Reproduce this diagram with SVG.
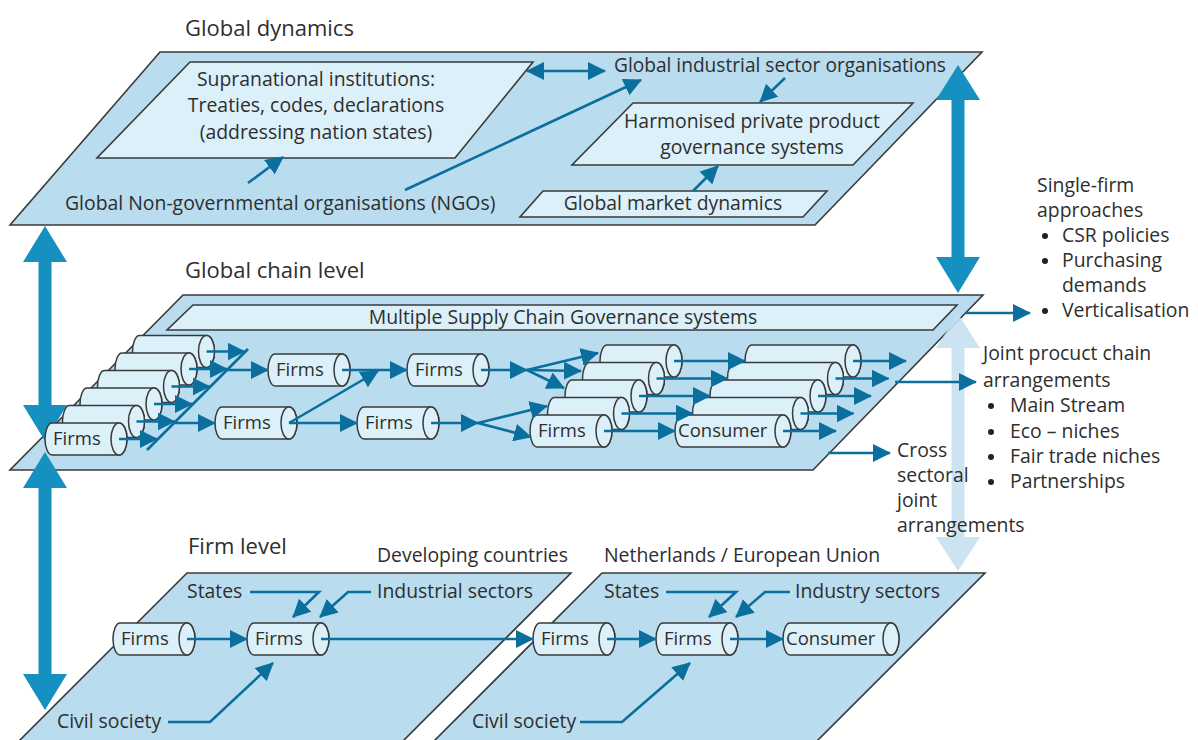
<svg xmlns="http://www.w3.org/2000/svg" xmlns:xlink="http://www.w3.org/1999/xlink" width="1198" height="740" viewBox="0 0 1198 740">
  <defs>
    <style>
      .plane { fill: #b9dcef; stroke: #3a3a3a; stroke-width: 1.6; }
      .box { fill: #dcf0fa; stroke: #3a3a3a; stroke-width: 1.6; }
      .cyl path, .cyl ellipse { fill: #dcf0fa; stroke: #3a3a3a; stroke-width: 1.5; }
      text { font-family: "Open Sans", "Liberation Sans", sans-serif; font-size: 19.4px; fill: #2e2e2e; }
      .title { font-size: 22px; }
      .c { text-anchor: middle; }
      .lbl { font-size: 18.5px; }
      .bullet { fill: #222222; }
      .conn path { fill: none; stroke: #0b6f9e; stroke-width: 2.6; marker-end: url(#ah); }
      .conn path.plain { marker-end: none; }
      .thick { fill: #1690c0; }
      .pale { fill: #c6e0f1; opacity: 0.9; }
    </style>
    <marker id="ah" viewBox="0 0 18 18" refX="17" refY="9" markerWidth="18" markerHeight="18" markerUnits="userSpaceOnUse" orient="auto-start-reverse">
      <path d="M0,0 L18,9 L0,18 z" fill="#0b6f9e"/>
    </marker>
    <!-- cylinder shapes: rounded body with a visible end cap on the right -->
    <g id="cylF" class="cyl">
      <path d="M7,0 H74 A8,16 0 0 1 74,32 H7 A7,16 0 0 1 7,0 Z"/>
      <ellipse cx="74" cy="16" rx="8" ry="16"/>
    </g>
    <g id="cylC" class="cyl">
      <path d="M7,0 H108 A8,16 0 0 1 108,32 H7 A7,16 0 0 1 7,0 Z"/>
      <ellipse cx="108" cy="16" rx="8" ry="16"/>
    </g>
  </defs>

  <rect width="1198" height="740" fill="#ffffff"/>

  <!-- level titles -->
  <text class="title" x="185" y="36">Global dynamics</text>
  <text class="title" x="185" y="278">Global chain level</text>
  <text class="title" x="188" y="554">Firm level</text>
  <text x="377" y="562">Developing countries</text>
  <text x="604" y="562">Netherlands / European Union</text>

  <!-- global dynamics plane -->
  <g id="plane-global">
    <polygon class="plane" points="160,52 982,52 815,225 10,225"/>
  </g>
  <g id="supranational">
    <polygon class="box" points="190,62 533,62 455,158 97,158"/>
    <text class="c" x="316" y="86">Supranational institutions:</text>
    <text class="c" x="316" y="112">Treaties, codes, declarations</text>
    <text class="c" x="316" y="139">(addressing nation states)</text>
  </g>
  <g id="sector-orgs">
    <text x="614" y="72" textLength="332" lengthAdjust="spacingAndGlyphs">Global industrial sector organisations</text>
  </g>
  <g id="harmonised">
    <polygon class="box" points="633,103 913,103 853,165 572,165"/>
    <text class="c" x="752" y="128">Harmonised private product</text>
    <text class="c" x="752" y="154">governance systems</text>
  </g>
  <g id="ngos">
    <text x="65" y="210">Global Non-governmental organisations (NGOs)</text>
  </g>
  <g id="market">
    <polygon class="box" points="543,191 827,191 803,217 520,217"/>
    <text class="c" x="673" y="210">Global market dynamics</text>
  </g>

  <!-- global chain plane -->
  <g id="plane-chain">
    <polygon class="plane" points="183,295 983,295 813,470 10,470"/>
  </g>
  <g id="mscg">
    <polygon class="box" points="193,305 957,305 933,330 167,330"/>
    <text class="c" x="563" y="324">Multiple Supply Chain Governance systems</text>
  </g>

  <!-- firm level planes -->
  <g id="plane-developing">
    <polygon class="plane" points="187,573 571,573 399,745 15,745"/>
    <text x="187" y="598">States</text>
    <text x="377" y="598">Industrial sectors</text>
    <text x="57" y="728">Civil society</text>
  </g>
  <g id="plane-eu">
    <polygon class="plane" points="602,573 985,573 813,745 430,745"/>
    <text x="604" y="598">States</text>
    <text x="795" y="598">Industry sectors</text>
    <text x="472" y="728">Civil society</text>
  </g>

  <!-- level interactions -->
  <g id="level-arrows">
    <polygon class="thick" points="958,65 980,100 964.5,100 964.5,257 980,257 958,293 936,257 951.5,257 951.5,100 936,100"/>
    <polygon class="thick" points="45,226 67,262 51.5,262 51.5,405 67,405 45,441 23,405 38.5,405 38.5,262 23,262"/>
    <polygon class="thick" points="45,452 67,488 51.5,488 51.5,674 67,674 45,710 23,674 38.5,674 38.5,488 23,488"/>
    <polygon class="pale" points="958,314 980,348 964.5,348 964.5,537 980,537 958,571 936,537 951.5,537 951.5,348 936,348"/>
  </g>

  <!-- chain level: stacked firms at the origin -->
  <g id="stack-origin">
    <use xlink:href="#cylF" x="132.5" y="335.5"/>
    <use xlink:href="#cylF" x="115" y="353"/>
    <use xlink:href="#cylF" x="97.5" y="370.5"/>
    <use xlink:href="#cylF" x="80" y="388"/>
    <use xlink:href="#cylF" x="62.5" y="405.5"/>
    <use xlink:href="#cylF" x="45" y="423"/>
    <text class="lbl" x="53" y="445">Firms</text>
  </g>
  <g id="firms-a">
    <use xlink:href="#cylF" x="268" y="354"/>
    <text class="lbl" x="276" y="376">Firms</text>
  </g>
  <g id="firms-b">
    <use xlink:href="#cylF" x="215" y="407"/>
    <text class="lbl" x="223" y="429">Firms</text>
  </g>
  <g id="firms-c">
    <use xlink:href="#cylF" x="407" y="354"/>
    <text class="lbl" x="415" y="376">Firms</text>
  </g>
  <g id="firms-d">
    <use xlink:href="#cylF" x="357" y="407"/>
    <text class="lbl" x="365" y="429">Firms</text>
  </g>
  <g id="stack-firms">
    <use xlink:href="#cylF" x="600" y="345"/>
    <use xlink:href="#cylF" x="582.5" y="362.5"/>
    <use xlink:href="#cylF" x="565" y="380"/>
    <use xlink:href="#cylF" x="547.5" y="397.5"/>
    <use xlink:href="#cylF" x="530" y="415"/>
    <text class="lbl" x="538" y="437">Firms</text>
  </g>
  <g id="stack-consumer">
    <use xlink:href="#cylC" x="745" y="345"/>
    <use xlink:href="#cylC" x="727.5" y="362.5"/>
    <use xlink:href="#cylC" x="710" y="380"/>
    <use xlink:href="#cylC" x="692.5" y="397.5"/>
    <use xlink:href="#cylC" x="675" y="415"/>
    <text class="lbl" x="678" y="437">Consumer</text>
  </g>

  <!-- firm level nodes -->
  <g id="dev-firms-1">
    <use xlink:href="#cylF" x="113" y="623"/>
    <text class="lbl" x="121" y="645">Firms</text>
  </g>
  <g id="dev-firms-2">
    <use xlink:href="#cylF" x="247" y="623"/>
    <text class="lbl" x="255" y="645">Firms</text>
  </g>
  <g id="eu-firms-1">
    <use xlink:href="#cylF" x="533" y="623"/>
    <text class="lbl" x="541" y="645">Firms</text>
  </g>
  <g id="eu-firms-2">
    <use xlink:href="#cylF" x="656" y="623"/>
    <text class="lbl" x="664" y="645">Firms</text>
  </g>
  <g id="eu-consumer">
    <use xlink:href="#cylC" x="783" y="623"/>
    <text class="lbl" x="786" y="645">Consumer</text>
  </g>

  <!-- approaches listed beside the chain level -->
  <g id="single-firm">
    <text x="1037" y="192">Single-firm</text>
    <text x="1037" y="217">approaches</text>
    <circle class="bullet" cx="1045" cy="236" r="3"/><text x="1062" y="242">CSR policies</text>
    <circle class="bullet" cx="1045" cy="261" r="3"/><text x="1062" y="267">Purchasing</text>
    <text x="1062" y="292">demands</text>
    <circle class="bullet" cx="1045" cy="311" r="3"/><text x="1062" y="317">Verticalisation</text>
  </g>
  <g id="joint-chain">
    <text x="983" y="360">Joint procuct chain</text>
    <text x="983" y="387">arrangements</text>
    <circle class="bullet" cx="991" cy="406" r="3"/><text x="1010" y="412">Main Stream</text>
    <circle class="bullet" cx="991" cy="432" r="3"/><text x="1010" y="438">Eco – niches</text>
    <circle class="bullet" cx="991" cy="457" r="3"/><text x="1010" y="463">Fair trade niches</text>
    <circle class="bullet" cx="991" cy="482" r="3"/><text x="1010" y="488">Partnerships</text>
  </g>
  <g id="cross-sectoral">
    <text x="897" y="457">Cross</text>
    <text x="897" y="482">sectoral</text>
    <text x="897" y="507">joint</text>
    <text x="897" y="532">arrangements</text>
  </g>

  <!-- connectors -->
  <g id="connectors" class="conn">
    <!-- global dynamics -->
    <path d="M527,71 H605" style="marker-start:url(#ah)"/>
    <path d="M248,183 L283,157"/>
    <path d="M405,190 L641,80"/>
    <path d="M785,78 L760,102"/>
    <path d="M693,191 L718,166"/>

    <!-- origin stack into collector -->
    <path class="plain" d="M147,450 L248,349"/>
    <path d="M119,439 H157"/>
    <path d="M136.5,421.5 H174.5"/>
    <path d="M154,404 H192"/>
    <path d="M171.5,386.5 H209.5"/>
    <path d="M189,369 H227"/>
    <path d="M206.5,351.5 H244.5"/>
    <path d="M227,370 H268"/>
    <path d="M174,423 H215"/>

    <!-- chain steps -->
    <path d="M342,370 H407"/>
    <path d="M289,423 L378,371"/>
    <path d="M289,423 H357"/>
    <path d="M481,370 H527"/>
    <path d="M527,370 L598,353"/>
    <path d="M527,370 L581,371"/>
    <path d="M527,370 L564,388"/>
    <path d="M431,423 H478"/>
    <path d="M478,423 L547,406"/>
    <path d="M478,423 L531,437"/>

    <!-- firms stack to consumers -->
    <path d="M604,431 H675"/>
    <path d="M621.5,413.5 H692.5"/>
    <path d="M639,396 H710"/>
    <path d="M656.5,378.5 H727.5"/>
    <path d="M674,361 H745"/>
    <!-- consumer outputs -->
    <path d="M783,431 H836"/>
    <path d="M800.5,413.5 H853.5"/>
    <path d="M818,396 H871"/>
    <path d="M835.5,378.5 H888.5"/>
    <path d="M853,361 H906"/>

    <!-- out of the chain level -->
    <path d="M966,313 H1030"/>
    <path d="M895,382 H976"/>
    <path d="M828,453 H890"/>

    <!-- firm level -->
    <path d="M187,639 H247"/>
    <path d="M321,639 H533"/>
    <path d="M607,639 H656"/>
    <path d="M730,639 H783"/>
    <path d="M250,592 H319 L293,617"/>
    <path d="M371,592 H348 L320,617"/>
    <path d="M168,722 H210 L273,663"/>
    <path d="M666,592 H736 L709,617"/>
    <path d="M790,592 H765 L736,617"/>
    <path d="M580,722 H622 L690,663"/>
  </g>
</svg>
